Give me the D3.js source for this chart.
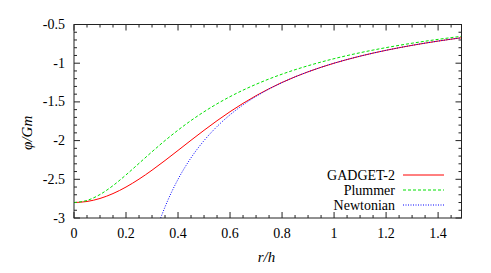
<!DOCTYPE html>
<html>
<head>
<meta charset="utf-8">
<script src="https://cdn.jsdelivr.net/npm/d3@7"></script>
<style>
  body { margin: 0; background: #fff; }
  svg text { font-family: "Liberation Serif", "Times New Roman", Times, serif !important; }
</style>
</head>
<body>
<div class="canvas"></div>
<script>
// data (r/h and phi/Gm)
const rGrid = [0, 0.05, 0.1, 0.15, 0.2, 0.25, 0.3, 0.35, 0.4, 0.45, 0.5, 0.55, 0.6, 0.65, 0.7, 0.75,
  0.8, 0.85, 0.9, 0.95, 1.0, 1.05, 1.1, 1.15, 1.2, 1.25, 1.3, 1.35, 1.4, 1.45, 1.5];
const gadget = [-2.8, -2.7867, -2.7476, -2.6844, -2.6, -2.4979, -2.3822, -2.2571, -2.1269, -1.9956,
  -1.8667, -1.743, -1.6266, -1.5186, -1.4197, -1.3299, -1.2489, -1.1762, -1.1111, -1.0526, -1.0,
  -0.9524, -0.9091, -0.8696, -0.8333, -0.8, -0.7692, -0.7407, -0.7143, -0.6897, -0.6667];
const plummer = [-2.8, -2.773, -2.6963, -2.5815, -2.443, -2.2939, -2.144, -1.9998, -1.8649, -1.7406,
  -1.6275, -1.5249, -1.4322, -1.3483, -1.2725, -1.2038, -1.1414, -1.0846, -1.0328, -0.9853, -0.9417,
  -0.9016, -0.8647, -0.8304, -0.7987, -0.7692, -0.7417, -0.7161, -0.6921, -0.6696, -0.6485];
const rNewton = [0.3333, 0.34, 0.35, 0.36, 0.375, 0.4, 0.45, 0.5, 0.55, 0.6, 0.65, 0.7, 0.75, 0.8,
  0.85, 0.9, 0.95, 1.0, 1.05, 1.1, 1.15, 1.2, 1.25, 1.3, 1.35, 1.4, 1.45, 1.5];
const newton = [-3.0, -2.9412, -2.8571, -2.7778, -2.6667, -2.5, -2.2222, -2.0, -1.8182, -1.6667,
  -1.5385, -1.4286, -1.3333, -1.25, -1.1765, -1.1111, -1.0526, -1.0, -0.9524, -0.9091, -0.8696,
  -0.8333, -0.8, -0.7692, -0.7407, -0.7143, -0.6897, -0.6667];
const xTicks = [0, 0.2, 0.4, 0.6, 0.8, 1, 1.2, 1.4];
const yTicks = [-3, -2.5, -2, -1.5, -1, -0.5];
const seriesNames = ['GADGET-2', 'Plummer', 'Newtonian'];

const width = 491, height = 273;
const margin = { top: 24.5, right: 29.5, bottom: 55, left: 74 };
const graphWidth = width - margin.left - margin.right;
const graphHeight = height - margin.top - margin.bottom;

const svg = d3.select('.canvas')
  .append('svg')
  .attr('width', width)
  .attr('height', height);

const graph = svg.append('g')
  .attr('transform', `translate(${margin.left}, ${margin.top})`);

const x = d3.scaleLinear().domain([0, 1.49]).range([0, graphWidth]);
const y = d3.scaleLinear().domain([-3, -0.5]).range([graphHeight, 0]);

// clip so curves stop at the frame
svg.append('clipPath').attr('id', 'clip')
  .append('rect').attr('width', graphWidth).attr('height', graphHeight);

// ticks on all four sides, pointing in (gnuplot style)
const xMinor = d3.range(0, 1.49, 0.05).filter(v => !xTicks.some(t => Math.abs(t - v) < 1e-6));
const yMinor = d3.range(-3, -0.49, 0.1).filter(v => !yTicks.some(t => Math.abs(t - v) < 1e-6));

const tickColor = '#222';
function xTickMarks(vals, len) {
  vals.forEach(v => {
    graph.append('line').attr('x1', x(v)).attr('x2', x(v))
      .attr('y1', graphHeight).attr('y2', graphHeight - len).attr('stroke', tickColor);
    graph.append('line').attr('x1', x(v)).attr('x2', x(v))
      .attr('y1', 0).attr('y2', len).attr('stroke', tickColor);
  });
}
function yTickMarks(vals, len) {
  vals.forEach(v => {
    graph.append('line').attr('y1', y(v)).attr('y2', y(v))
      .attr('x1', 0).attr('x2', len).attr('stroke', tickColor);
    graph.append('line').attr('y1', y(v)).attr('y2', y(v))
      .attr('x1', graphWidth).attr('x2', graphWidth - len).attr('stroke', tickColor);
  });
}
xTickMarks(xTicks, 6);
xTickMarks(xMinor, 3);
yTickMarks(yTicks, 6);
yTickMarks(yMinor, 3);

// tick labels
graph.selectAll('.xlab').data(xTicks).enter().append('text')
  .attr('x', d => x(d)).attr('y', graphHeight + 20)
  .attr('text-anchor', 'middle').attr('font-size', 14)
  .text(d => d);
graph.selectAll('.ylab').data(yTicks).enter().append('text')
  .attr('x', -9).attr('y', d => y(d) + 4.5)
  .attr('text-anchor', 'end').attr('font-size', 14)
  .text(d => d);

// axis titles
svg.append('text')
  .attr('x', margin.left + x(0.74)).attr('y', 262)
  .attr('text-anchor', 'middle').attr('font-size', 15).attr('font-style', 'italic')
  .text('r/h');
svg.append('text')
  .attr('transform', `translate(32, ${margin.top + y(-1.9)}) rotate(-90)`)
  .attr('text-anchor', 'middle').attr('font-size', 15).attr('font-style', 'italic')
  .text('φ/Gm');

// curves
const styles = [
  { color: '#ff0000', dash: null },
  { color: '#00e000', dash: '3,2' },
  { color: '#0000ff', dash: '1,1.5' },
];
const curves = [
  rGrid.map((r, i) => [r, gadget[i]]),
  rGrid.map((r, i) => [r, plummer[i]]),
  rNewton.map((r, i) => [r, newton[i]]),
];
const line = d3.line()
  .x(d => x(d[0]))
  .y(d => y(d[1]))
  .curve(d3.curveMonotoneX);

const plot = graph.append('g').attr('clip-path', 'url(#clip)');
curves.forEach((pts, i) => {
  plot.append('path')
    .attr('d', line(pts))
    .attr('fill', 'none')
    .attr('stroke', styles[i].color)
    .attr('stroke-width', 1)
    .attr('stroke-dasharray', styles[i].dash);
});

// legend
const legend = svg.append('g');
seriesNames.forEach((name, i) => {
  const ly = 175 + i * 15;
  legend.append('text')
    .attr('x', 395).attr('y', ly + 4.5)
    .attr('text-anchor', 'end').attr('font-size', 14)
    .text(name);
  legend.append('line')
    .attr('x1', 403).attr('x2', 444).attr('y1', ly).attr('y2', ly)
    .attr('stroke', styles[i].color)
    .attr('stroke-dasharray', styles[i].dash);
});

// frame
graph.append('rect')
  .attr('width', graphWidth).attr('height', graphHeight)
  .attr('fill', 'none').attr('stroke', tickColor);
</script>
</body>
</html>
